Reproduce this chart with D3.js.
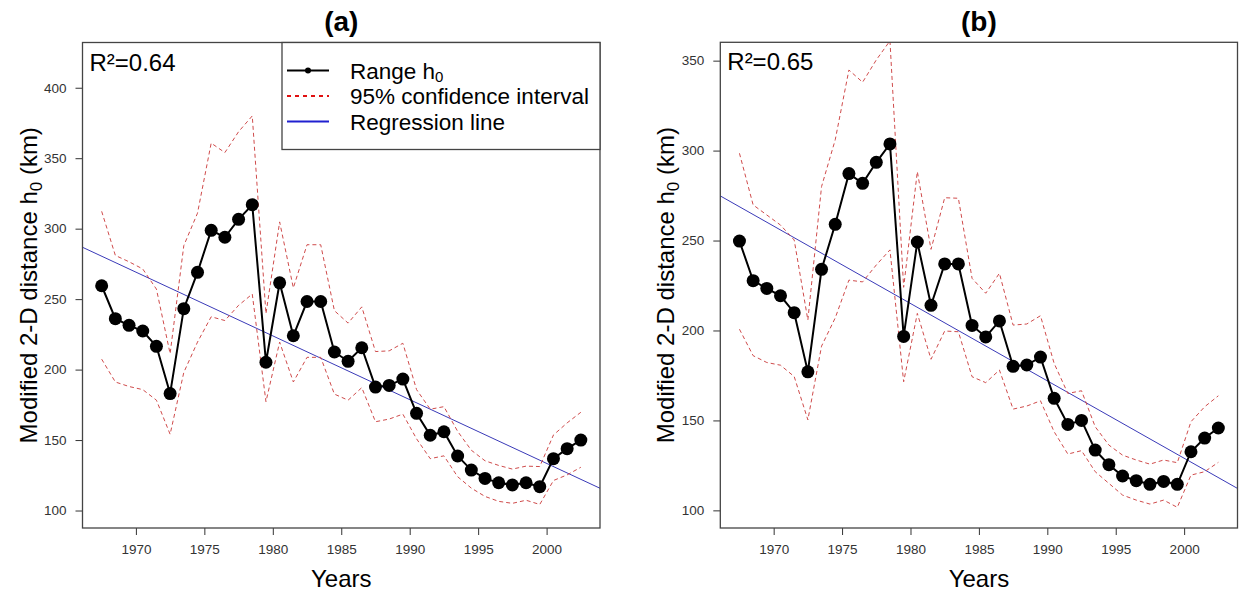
<!DOCTYPE html>
<html><head><meta charset="utf-8">
<script src="https://cdn.jsdelivr.net/npm/d3@7"></script>
<style>
html,body{margin:0;padding:0;background:#fff;}
svg{display:block;font-family:"Liberation Sans",Arial,sans-serif;}
</style></head>
<body>
<svg id="chart" width="1240" height="594"></svg>
<script>
// ---------- data ----------
const years = [1967.5,1968.5,1969.5,1970.5,1971.5,1972.5,1973.5,1974.5,1975.5,1976.5,1977.5,1978.5,
  1979.5,1980.5,1981.5,1982.5,1983.5,1984.5,1985.5,1986.5,1987.5,1988.5,1989.5,1990.5,
  1991.5,1992.5,1993.5,1994.5,1995.5,1996.5,1997.5,1998.5,1999.5,2000.5,2001.5,2002.5];

const rangeA = [259.5,236.1,231.4,227.4,216.5,183,243.2,269,298.8,293.9,306.6,317,
  205.2,261.6,224,248.3,248.3,212.5,205.9,215.5,187.6,188.8,193.3,169,
  153.4,155.9,138.7,128.7,122.8,119.7,118.1,119.7,116.9,136.8,143.9,150];
const upperA = [312.3,281,276.5,271.4,257.1,211.3,288,311,360.7,354,368.8,380,
  239.7,304.8,258,288.6,288.6,241.8,233,244.5,212.8,213.3,218.7,185.8,
  171.9,173.7,156.2,142.8,135.3,132,129.4,131.5,131.2,153.6,162.2,169.7];
const lowerA = [207.4,191.2,188,185.8,178.3,154.1,198,219.5,237.5,234.8,245.6,253.6,
  177.2,219.5,191.2,208.7,208.7,182.6,178.3,187.2,163,164.9,168.4,150.9,
  136.8,138.8,124,115.9,110,106.5,105.1,107.3,104.3,121.3,125.3,130.7];
const regA = [286.8, 115.8];   // regression values at the x-axis limits
const r2A = "R²=0.64";

const rangeB = [249.7,227.7,223.4,219.3,209.9,177,234,259,287.2,281.8,293.5,303.7,
  196.7,249.2,214,237,237,202.8,196.4,205.3,180.1,180.8,185.2,162.3,
  147.8,150,133.5,125.4,119.1,116.5,114.5,116.1,114.5,132.6,140.2,145.8];
const upperB = [298.5,269.8,264.2,258.6,250.3,205.8,280,306,344.8,338,350.4,361,
  224,288.3,245.1,273.8,273.5,229,220.7,231.8,203,203.6,208.2,181.7,
  165,166.5,146.5,136.3,130.7,128,125.7,128,126.5,149.3,157.6,163.7];
const lowerB = [200.7,186,182.2,180.7,174.4,150.3,191.3,207,228,227,236.4,244.8,
  171.5,209.5,184,199.7,199.3,174.3,171,178,156.3,158,160.9,143.7,
  131.3,133.2,121.5,115,108.5,105.7,103.5,105.7,101.7,119.6,121.5,126.7];
const regB = [274.8, 112.2];
const r2B = "R²=0.65";

const xTicks = [1970,1975,1980,1985,1990,1995,2000];
const yTicksA = [100,150,200,250,300,350,400];
const yTicksB = [100,150,200,250,300,350];
const xDomain = [1966.1, 2003.9];
const titles = ["(a)", "(b)"];
const legendLabels = ["Range h", "95% confidence interval", "Regression line"];

// ---------- drawing ----------
const svg = d3.select("#chart");

function panel(opt) {
  const {left, right, top, bottom, yDomain, yTicks, range, upper, lower, reg, r2, title, id, legend} = opt;
  const x = d3.scaleLinear().domain(xDomain).range([left, right]);
  const y = d3.scaleLinear().domain(yDomain).range([bottom, top]);
  const g = svg.append("g");

  g.append("clipPath").attr("id", "clip" + id).append("rect")
    .attr("x", left).attr("y", top).attr("width", right - left).attr("height", bottom - top);
  const plot = g.append("g").attr("clip-path", `url(#clip${id})`);

  // regression line
  plot.append("line")
    .attr("x1", x(xDomain[0])).attr("y1", y(reg[0]))
    .attr("x2", x(xDomain[1])).attr("y2", y(reg[1]))
    .attr("stroke", "#3a3ab8").attr("stroke-width", 1);

  const line = d3.line().x((d, i) => x(years[i])).y(d => y(d));
  [upper, lower].forEach(arr => {
    plot.append("path").attr("d", line(arr)).attr("fill", "none")
      .attr("stroke", "#cf4b4b").attr("stroke-width", 1).attr("stroke-dasharray", "4,3");
  });
  plot.append("path").attr("d", line(range)).attr("fill", "none")
    .attr("stroke", "#000").attr("stroke-width", 2);
  plot.selectAll("circle.pt").data(range).enter().append("circle")
    .attr("cx", (d, i) => x(years[i])).attr("cy", d => y(d)).attr("r", 6.5).attr("fill", "#000");

  // axes
  const xAxis = d3.axisBottom(x).tickValues(xTicks).tickSize(7).tickPadding(9).tickFormat(d3.format("d"));
  const gx = g.append("g").attr("transform", `translate(0,${bottom})`).call(xAxis);
  gx.select(".domain").remove();
  const yAxis = d3.axisLeft(y).tickValues(yTicks).tickSize(7).tickPadding(9).tickFormat(d3.format("d"));
  const gy = g.append("g").attr("transform", `translate(${left},0)`).call(yAxis);
  gy.select(".domain").remove();
  [gx, gy].forEach(a => {
    a.selectAll("text").attr("font-size", 13.5).attr("fill", "#333")
      .attr("font-family", "'Liberation Sans',Arial,sans-serif");
    a.selectAll("line").attr("stroke", "#333");
  });

  // frame
  g.append("rect").attr("x", left).attr("y", top).attr("width", right - left).attr("height", bottom - top)
    .attr("fill", "none").attr("stroke", "#444").attr("stroke-width", 1.3);

  // titles
  const cx = (left + right) / 2;
  g.append("text").attr("x", cx).attr("y", 31).attr("text-anchor", "middle")
    .attr("font-size", 28).attr("font-weight", "bold").text(title);
  g.append("text").attr("x", cx).attr("y", 587).attr("text-anchor", "middle")
    .attr("font-size", 24).text("Years");
  const yt = g.append("text")
    .attr("transform", `translate(${left - 46},${(top + bottom) / 2}) rotate(-90)`)
    .attr("text-anchor", "middle").attr("font-size", 24);
  yt.append("tspan").text("Modified 2-D distance h");
  yt.append("tspan").attr("font-size", 17).attr("dy", 5).text("0");
  yt.append("tspan").attr("dy", -5).text(" (km)");

  g.append("text").attr("x", left + 7).attr("y", top + 28).attr("font-size", 24).text(r2);

  if (legend) {
    const lx = 282, ly = top, lw = right - lx, lh = 107;
    g.append("rect").attr("x", lx).attr("y", ly).attr("width", lw).attr("height", lh)
      .attr("fill", "#fff").attr("stroke", "#444").attr("stroke-width", 1.3);
    const rows = [28, 53.5, 79];
    g.append("line").attr("x1", lx + 5).attr("x2", lx + 47).attr("y1", ly + rows[0]).attr("y2", ly + rows[0])
      .attr("stroke", "#000").attr("stroke-width", 2);
    g.append("circle").attr("cx", lx + 26).attr("cy", ly + rows[0]).attr("r", 3).attr("fill", "#000");
    g.append("line").attr("x1", lx + 5).attr("x2", lx + 47).attr("y1", ly + rows[1]).attr("y2", ly + rows[1])
      .attr("stroke", "#e01010").attr("stroke-width", 2).attr("stroke-dasharray", "4,4");
    g.append("line").attr("x1", lx + 5).attr("x2", lx + 47).attr("y1", ly + rows[2]).attr("y2", ly + rows[2])
      .attr("stroke", "#2020d0").attr("stroke-width", 2);
    legendLabels.forEach((t, i) => {
      const tx = g.append("text").attr("x", lx + 68).attr("y", ly + rows[i] + 8).attr("font-size", 22.5);
      tx.append("tspan").text(t);
      if (i === 0) tx.append("tspan").attr("font-size", 15).attr("dy", 3).text("0");
    });
  }
}

panel({left: 82.5, right: 600, top: 42.5, bottom: 528, yDomain: [87.6, 432.1], yTicks: yTicksA,
  range: rangeA, upper: upperA, lower: lowerA, reg: regA, r2: r2A, title: titles[0], id: "a", legend: true});
panel({left: 720.3, right: 1237.5, top: 42.3, bottom: 528, yDomain: [90.2, 360.2], yTicks: yTicksB,
  range: rangeB, upper: upperB, lower: lowerB, reg: regB, r2: r2B, title: titles[1], id: "b", legend: false});
</script>
</body></html>
